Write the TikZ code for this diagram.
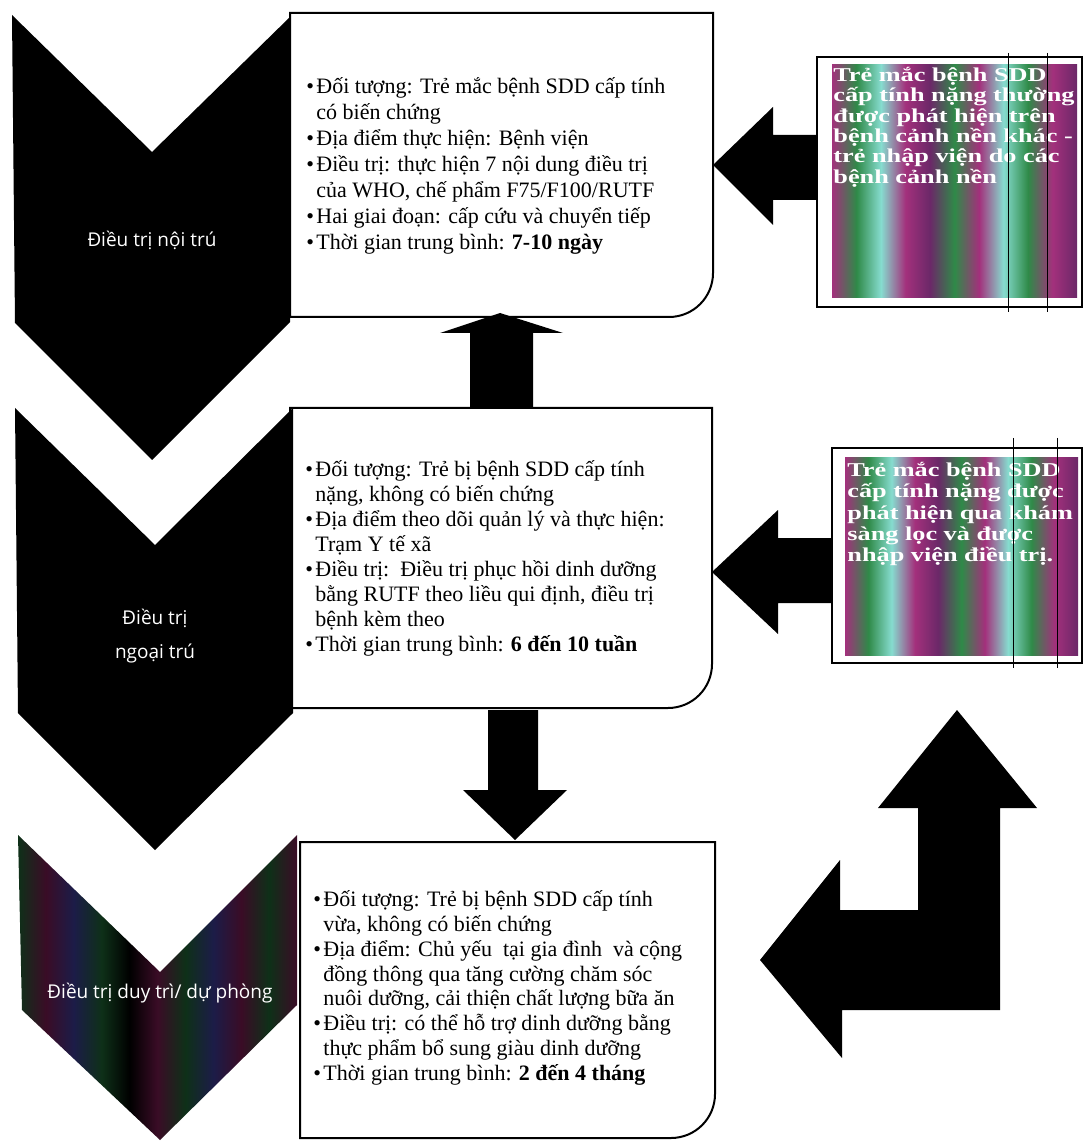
\documentclass[tikz,border=0pt]{standalone}
\usepackage{fontspec}
\setmainfont{Liberation Serif}
\newfontfamily\chevfont{Open Sans}
\newfontfamily\sidefont[FakeStretch=1.34]{Liberation Serif}
\definecolor{stM}{HTML}{A3307C}
\definecolor{stG}{HTML}{2F8A48}
\definecolor{stC}{HTML}{86DCCF}
\definecolor{stP}{HTML}{6B2868}
\definecolor{dkR}{HTML}{3A0C26}
\definecolor{dkG}{HTML}{0E3018}
\definecolor{dkB}{HTML}{1C1C48}
\pgfdeclarehorizontalshading{brightstripes}{100bp}{color(0bp)=(stM); color(25bp)=(stM);
  color(30bp)=(stG); color(35bp)=(stC); color(40bp)=(stM); color(45bp)=(stP);
  color(50bp)=(stG); color(55bp)=(stM); color(60bp)=(stC); color(65bp)=(stG);
  color(70bp)=(stM); color(75bp)=(stP); color(100bp)=(stP)}
\pgfdeclarehorizontalshading{darkstripes}{100bp}{color(0bp)=(dkG); color(25bp)=(dkG);
  color(30bp)=(dkR); color(35bp)=(dkB); color(40bp)=(dkG); color(45bp)=(black);
  color(50bp)=(dkR); color(55bp)=(dkG); color(60bp)=(dkB); color(65bp)=(dkR);
  color(70bp)=(dkG); color(75bp)=(dkR); color(100bp)=(dkR)}
\newcommand{\bu}{\makebox[5pt][l]{\textbullet}}
\newcommand{\ind}{\hspace*{5pt}}
\newcommand{\tightlines}{\lineskiplimit=-20pt\relax}
\usetikzlibrary{positioning}

\begin{document}
\begin{tikzpicture}[x=0.5pt, y=-0.5pt,
  chev/.style={fill=black},
  boxline/.style={line width=1pt, line cap=rect},
  blockarrow/.style={fill=black},
  chevlabel/.style={text=white, align=center, font=\chevfont\fontsize{9.5}{17}\selectfont},
  body/.style={anchor=west, inner sep=0pt, align=left, font=\fontsize{11}{13}\selectfont},
  sidetext/.style={anchor=west, inner sep=0pt, align=left, text=white,
    font=\sidefont\bfseries\fontsize{9.8}{10.2}\selectfont\tightlines}
]
\useasboundingbox (0,0) rectangle (1086,1143);

\fill[chev] (12,15) -- (152,152) -- (290,17) -- (290,322) -- (152,460) -- (15,323) -- cycle;
\fill[chev] (15,408) -- (155,545) -- (293,408) -- (293,713) -- (155,850) -- (18,713) -- cycle;
\shade[shading=darkstripes] (18,835) -- (160,972) -- (297,835) -- (297,1005) -- (160,1140) -- (22,1010) -- cycle;

\node[chevlabel] (inpt) at (152,240) {Điều trị nội trú};
\node[chevlabel] (outpt) at (155,636) {Điều trị\\ngoại trú};
\node[chevlabel] (maint) at (160,993) {Điều trị duy trì/ dự phòng};

\draw[boxline] (290,317) -- (290,13) -- (713,13) [rounded corners=22pt] -- (713,317) -- (290,317);
\draw[boxline] (290,708) -- (290,408) -- (712,408) [rounded corners=22pt] -- (712,708) -- (290,708);
\draw[boxline] (300,1138) -- (300,842) -- (715,842) [rounded corners=22pt] -- (715,1138) -- (300,1138);

\node[body] (inbody) at (306,166) {\bu Đối tượng: Trẻ mắc bệnh SDD cấp tính\\
  \ind có biến chứng\\
  \bu Địa điểm thực hiện: Bệnh viện\\
  \bu Điều trị: thực hiện 7 nội dung điều trị\\
  \ind của WHO, chế phẩm F75/F100/RUTF\\
  \bu Hai giai đoạn: cấp cứu và chuyển tiếp\\
  \bu Thời gian trung bình: \textbf{7-10 ngày}};
\node[body, font=\fontsize{11}{12.5}\selectfont] (outbody) at (305,558) {\bu Đối tượng: Trẻ bị bệnh SDD cấp tính\\
  \ind nặng, không có biến chứng\\
  \bu Địa điểm theo dõi quản lý và thực hiện:\\
  \ind Trạm Y tế xã\\
  \bu Điều trị:\ \ Điều trị phục hồi dinh dưỡng\\
  \ind bằng RUTF theo liều qui định, điều trị\\
  \ind bệnh kèm theo\\
  \bu Thời gian trung bình: \textbf{6 đến 10 tuần}};
\node[body, font=\fontsize{11}{12.4}\selectfont] (maintbody) at (313,988) {\bu Đối tượng: Trẻ bị bệnh SDD cấp tính\\
  \ind vừa, không có biến chứng\\
  \bu Địa điểm: Chủ yếu\ \ tại gia đình\ \ và cộng\\
  \ind đồng thông qua tăng cường chăm sóc\\
  \ind nuôi dưỡng, cải thiện chất lượng bữa ăn\\
  \bu Điều trị: có thể hỗ trợ dinh dưỡng bằng\\
  \ind thực phẩm bổ sung giàu dinh dưỡng\\
  \bu Thời gian trung bình: \textbf{2 đến 4 tháng}};

\draw[line width=0.8pt] (817,57) rectangle (1082,307);
\shade[shading=brightstripes] (832,65) rectangle (1077,298);
\node[sidetext] (hosp) at (833,127) {Trẻ mắc bệnh SDD\\cấp tính nặng thường\\được phát hiện trên\\bệnh cảnh nền khác -\\trẻ nhập viện do các\\bệnh cảnh nền};
\draw[thin] (1008,53) -- (1008,312) (1047,53) -- (1047,312);

\draw[line width=0.8pt] (832,448) rectangle (1082,663);
\shade[shading=brightstripes] (845,458) rectangle (1078,655);
\node[sidetext, font=\sidefont\bfseries\fontsize{9.8}{10.6}\selectfont\tightlines] (screen) at (847,514) {Trẻ mắc bệnh SDD\\cấp tính nặng được\\phát hiện qua khám\\sàng lọc và được\\nhập viện điều trị.};
\draw[thin] (1013,438) -- (1013,668) (1057,438) -- (1057,668);

\fill[blockarrow] (817,135) -- (773,135) -- (773,107) -- (713,165) -- (773,225) -- (773,200) -- (817,200) -- cycle;
\fill[blockarrow] (832,538) -- (778,538) -- (778,510) -- (712,572) -- (778,634) -- (778,603) -- (832,603) -- cycle;
\fill[blockarrow] (470,408) -- (470,333) -- (440,333) -- (500,313) -- (563,333) -- (533,333) -- (533,408) -- cycle;
\fill[blockarrow] (488,710) -- (488,790) -- (463,790) -- (515,840) -- (567,790) -- (538,790) -- (538,710) -- cycle;
\fill[blockarrow] (957,710) -- (1037,808) -- (1000,808) -- (1000,1010) -- (842,1010) -- (842,1058) -- (760,960)
  -- (840,860) -- (840,910) -- (918,910) -- (918,808) -- (878,808) -- cycle;
\end{tikzpicture}
\end{document}
